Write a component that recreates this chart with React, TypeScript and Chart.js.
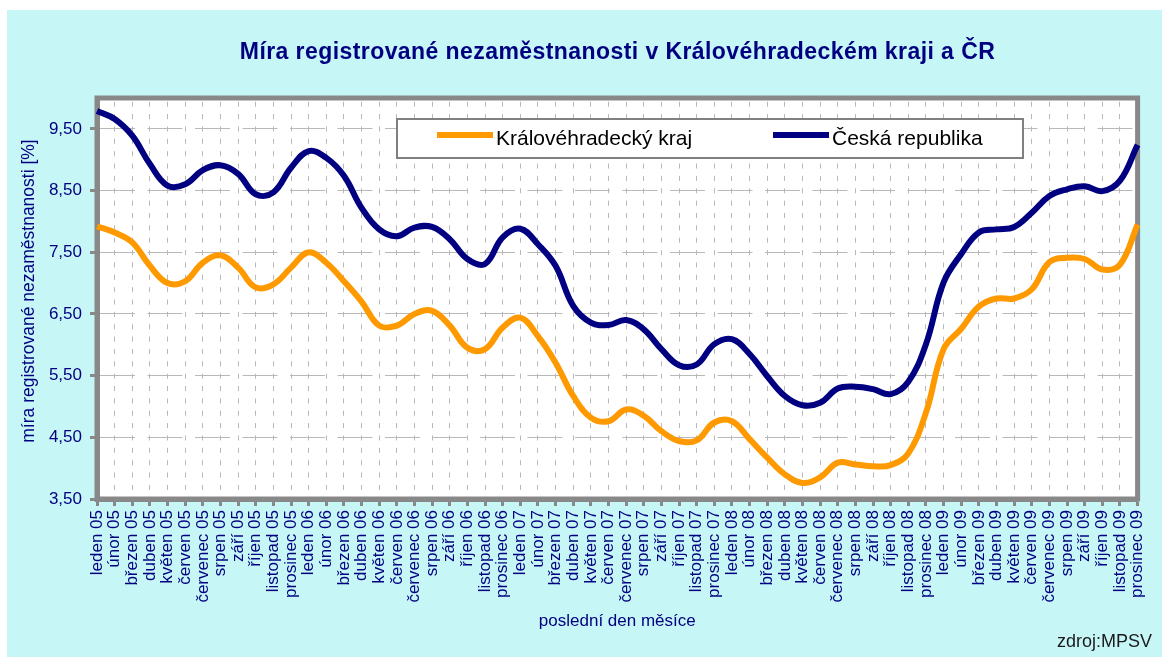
import React, { useEffect, useRef } from 'react';
import { Chart, registerables } from 'chart.js';

Chart.register(...registerables);

const TITLE = 'Míra registrované nezaměstnanosti v Královéhradeckém kraji a ČR';
const Y_TITLE = 'míra registrované nezaměstnanosti [%]';
const X_TITLE = 'poslední den měsíce';
const SOURCE = 'zdroj:MPSV';

const months = ['leden', 'únor', 'březen', 'duben', 'květen', 'červen', 'červenec', 'srpen', 'září', 'říjen', 'listopad', 'prosinec'];
const years = ['05', '06', '07', '08', '09'];
const categories = years.flatMap((y) => months.map((m) => `${m} ${y}`));

const seriesNames = ['Královéhradecký kraj', 'Česká republika'];

const kraj = [
  7.92, 7.82, 7.66, 7.28, 7.00, 7.03, 7.33, 7.45, 7.25, 6.93,
  6.98, 7.25, 7.50, 7.33, 7.03, 6.70, 6.31, 6.31, 6.50, 6.55,
  6.31, 5.95, 5.93, 6.28, 6.44, 6.14, 5.71, 5.17, 4.82, 4.76,
  4.95, 4.85, 4.60, 4.44, 4.45, 4.74, 4.76, 4.47, 4.17, 3.90,
  3.76, 3.85, 4.09, 4.06, 4.03, 4.05, 4.24, 4.90, 5.93, 6.26,
  6.62, 6.75, 6.75, 6.90, 7.34, 7.41, 7.39, 7.22, 7.30, 7.95,
];

const cr = [
  9.79, 9.66, 9.39, 8.93, 8.58, 8.60, 8.83, 8.91, 8.77, 8.44,
  8.47, 8.87, 9.14, 9.03, 8.74, 8.22, 7.87, 7.76, 7.90, 7.91,
  7.71, 7.39, 7.31, 7.74, 7.88, 7.63, 7.28, 6.63, 6.36, 6.32,
  6.40, 6.25, 5.93, 5.67, 5.68, 6.01, 6.09, 5.85, 5.49, 5.17,
  5.02, 5.06, 5.29, 5.32, 5.28, 5.20, 5.40, 6.01, 7.01, 7.47,
  7.82, 7.87, 7.91, 8.14, 8.41, 8.52, 8.57, 8.49, 8.66, 9.24,
];

const yTicks = [3.5, 4.5, 5.5, 6.5, 7.5, 8.5, 9.5];
const Y_MIN = 3.5;
const Y_MAX = 10;

const ORANGE = '#FF9900';
const NAVY = '#000080';
const GRID = '#b8b8b8';
const AXIS = '#888888';
const FONT = '"Liberation Sans", Arial, sans-serif';

const W = 1155;
const H = 647;

function drawSpaced(ctx: CanvasRenderingContext2D, text: string, x: number, y: number, targetWidth: number) {
  const w = ctx.measureText(text).width;
  const anyCtx = ctx as any;
  if ('letterSpacing' in anyCtx && text.length > 1 && targetWidth >= w) {
    const sp = (targetWidth - w) / (text.length - 1);
    anyCtx.letterSpacing = `${sp}px`;
    ctx.textAlign = 'left';
    ctx.fillText(text, x - targetWidth / 2, y);
    anyCtx.letterSpacing = '0px';
  } else {
    ctx.save();
    ctx.translate(x, y);
    ctx.scale(targetWidth / w, 1);
    ctx.textAlign = 'center';
    ctx.fillText(text, 0, 0);
    ctx.restore();
  }
}

const decor = {
  id: 'decor',
  beforeDraw(chart: any) {
    const { ctx, chartArea: a } = chart;
    ctx.save();
    ctx.fillStyle = '#ffffff';
    ctx.fillRect(a.left, a.top, a.right - a.left, a.bottom - a.top);
    ctx.restore();
  },
  beforeDatasetsDraw(chart: any) {
    const { ctx, chartArea: a } = chart;
    ctx.save();
    ctx.strokeStyle = AXIS;
    ctx.lineWidth = 5;
    ctx.strokeRect(a.left, a.top, a.right - a.left, a.bottom - a.top);
    ctx.restore();
  },
  afterDraw(chart: any) {
    const { ctx, chartArea: a } = chart;
    const cx = (a.left + a.right) / 2;
    ctx.save();
    // title
    ctx.fillStyle = NAVY;
    ctx.font = `bold 23px ${FONT}`;
    ctx.textBaseline = 'alphabetic';
    drawSpaced(ctx, TITLE, cx, 49, 755);

    // legend box
    const lx = 390, ly = 109, lw = 626, lh = 39;
    ctx.fillStyle = '#ffffff';
    ctx.fillRect(lx, ly, lw, lh);
    ctx.strokeStyle = '#808080';
    ctx.lineWidth = 2;
    ctx.strokeRect(lx, ly, lw, lh);
    const items = [
      { color: ORANGE, x: 430, label: chart.data.datasets[0].label },
      { color: NAVY, x: 766, label: chart.data.datasets[1].label },
    ];
    ctx.font = `21px ${FONT}`;
    ctx.textAlign = 'left';
    ctx.textBaseline = 'alphabetic';
    for (const it of items) {
      ctx.strokeStyle = it.color;
      ctx.lineWidth = 6;
      ctx.beginPath();
      ctx.moveTo(it.x, 125);
      ctx.lineTo(it.x + 56, 125);
      ctx.stroke();
      ctx.fillStyle = '#000000';
      ctx.fillText(it.label, it.x + 59, 135);
    }

    // y title
    ctx.fillStyle = NAVY;
    ctx.font = `17.5px ${FONT}`;
    ctx.save();
    ctx.translate(22, 281);
    ctx.rotate(-Math.PI / 2);
    ctx.textAlign = 'center';
    ctx.textBaseline = 'middle';
    ctx.fillText(Y_TITLE, 0, 0);
    ctx.restore();

    // x title
    ctx.font = `17px ${FONT}`;
    ctx.textAlign = 'center';
    ctx.textBaseline = 'alphabetic';
    ctx.fillText(X_TITLE, cx, 616);

    // source
    ctx.fillStyle = '#1a1a1a';
    ctx.font = `18px ${FONT}`;
    ctx.textAlign = 'right';
    ctx.fillText(SOURCE, 1145, 637);
    ctx.restore();
  },
};

export default function App() {
  const ref = useRef<HTMLCanvasElement>(null);

  useEffect(() => {
    if (!ref.current) return;
    const chart = new Chart(ref.current, {
      type: 'line',
      data: {
        labels: categories,
        datasets: [
          {
            label: seriesNames[0],
            data: kraj,
            borderColor: ORANGE,
            backgroundColor: ORANGE,
            borderWidth: 6,
            pointRadius: 0,
            tension: 0.4,
            fill: false,
          },
          {
            label: seriesNames[1],
            data: cr,
            borderColor: NAVY,
            backgroundColor: NAVY,
            borderWidth: 6,
            pointRadius: 0,
            tension: 0.4,
            fill: false,
          },
        ],
      },
      options: {
        animation: false,
        responsive: false,
        maintainAspectRatio: false,
        layout: { padding: { top: 88, right: 22, left: 0, bottom: 0 } },
        plugins: {
          legend: { display: false },
          title: { display: false },
          tooltip: { enabled: false },
        },
        scales: {
          x: {
            type: 'category',
            offset: false,
            grid: {
              color: GRID,
              lineWidth: 1,
              drawTicks: true,
              tickLength: 7,
              tickColor: AXIS,
              tickWidth: 3,
            },
            border: { display: true, color: AXIS, width: 5, dash: [5, 7.36], dashOffset: 8.6 },
            ticks: {
              autoSkip: false,
              maxRotation: 90,
              minRotation: 90,
              color: NAVY,
              font: { family: FONT, size: 17 },
              padding: 4,
            },
            afterFit: (s: any) => {
              s.height = 158;
            },
          },
          y: {
            min: Y_MIN,
            max: Y_MAX,
            afterBuildTicks: (s: any) => {
              s.ticks = yTicks.map((v) => ({ value: v }));
            },
            grid: {
              color: GRID,
              lineWidth: 1,
              drawTicks: true,
              tickLength: 7,
              tickColor: AXIS,
              tickWidth: 3,
            },
            border: { display: true, color: AXIS, width: 5, dash: [35, 12.5] },
            ticks: {
              color: NAVY,
              font: { family: FONT, size: 17 },
              padding: 8,
              callback: (v: any) => Number(v).toFixed(2).replace('.', ','),
            },
            afterFit: (s: any) => {
              s.width = 90;
            },
          },
        },
      },
      plugins: [decor],
    });
    return () => chart.destroy();
  }, []);

  return (
    <div style={{ position: 'absolute', left: 7, top: 10, width: W, height: H, background: '#C7F6F6' }}>
      <canvas ref={ref} width={W} height={H} style={{ display: 'block', width: W, height: H }} />
    </div>
  );
}
